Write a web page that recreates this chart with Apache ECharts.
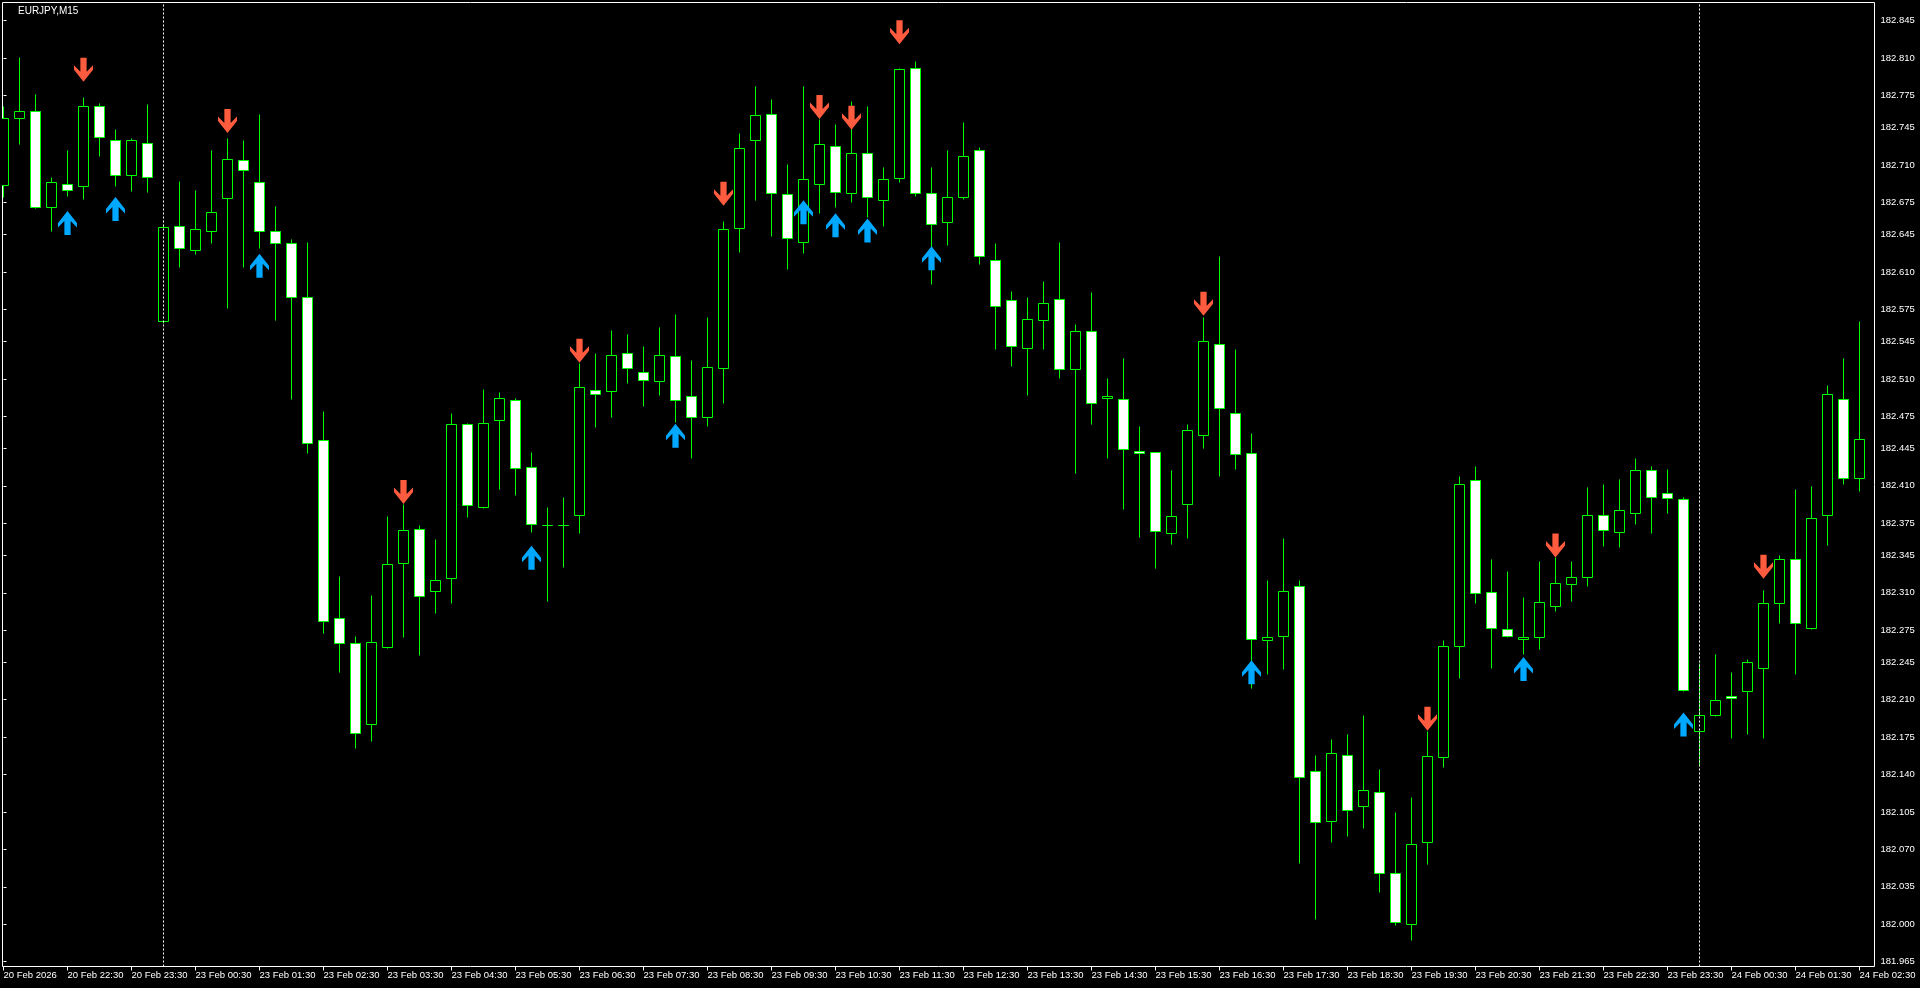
<!DOCTYPE html>
<html>
<head>
<meta charset="utf-8">
<title>EURJPY,M15</title>
<script src="https://cdn.jsdelivr.net/npm/echarts@6.0.0/dist/echarts.min.js"></script>
<style>
  html, body { margin: 0; padding: 0; background: #000; }
  #chart { width: 1920px; height: 988px; }
</style>
</head>
<body>
<div id="chart"></div>
<script>
// ---- Data (EURJPY, M15) ----
const opens = [
  182.691,182.754,182.761,182.671,182.692,182.690,182.765,182.733,182.701,182.731,
  182.564,182.653,182.631,182.648,182.679,182.715,182.694,182.648,182.637,182.587,
  182.453,182.286,182.263,182.187,182.259,182.338,182.370,182.312,182.324,182.468,
  182.390,182.472,182.490,182.428,182.373,182.373,182.383,182.500,182.499,182.534,
  182.516,182.508,182.531,182.494,182.474,182.520,182.651,182.733,182.758,182.683,
  182.638,182.692,182.728,182.684,182.721,182.677,182.698,182.801,182.684,182.657,
  182.680,182.724,182.621,182.584,182.539,182.565,182.585,182.519,182.555,182.492,
  182.491,182.443,182.442,182.366,182.393,182.458,182.543,182.478,182.441,182.266,
  182.270,182.316,182.143,182.097,182.158,182.111,182.124,182.048,182.000,182.077,
  182.156,182.260,182.415,182.311,182.276,182.267,182.269,182.298,182.318,182.325,
  182.383,182.367,182.385,182.425,182.403,182.398,182.181,182.196,182.213,182.218,
  182.240,182.300,182.342,182.277,182.383,182.491,182.417
];
const closes = [
  182.754,182.761,182.671,182.694,182.687,182.765,182.736,182.701,182.733,182.699,
  182.652,182.632,182.650,182.666,182.716,182.705,182.648,182.637,182.587,182.450,
  182.284,182.263,182.179,182.264,182.337,182.369,182.307,182.322,182.468,182.392,
  182.469,182.492,182.427,182.374,182.373,182.373,182.502,182.496,182.532,182.520,
  182.509,182.532,182.490,182.474,182.521,182.650,182.726,182.757,182.684,182.642,
  182.697,182.730,182.685,182.721,182.680,182.697,182.800,182.684,182.655,182.680,
  182.718,182.625,182.578,182.541,182.566,182.581,182.519,182.555,182.487,182.494,
  182.444,182.441,182.368,182.382,182.462,182.545,182.483,182.440,182.267,182.269,
  182.312,182.138,182.096,182.160,182.107,182.126,182.048,182.002,182.075,182.157,
  182.260,182.412,182.310,182.277,182.270,182.269,182.301,182.319,182.325,182.383,
  182.369,182.387,182.425,182.400,182.399,182.219,182.196,182.210,182.212,182.245,
  182.300,182.342,182.282,182.380,182.496,182.417,182.454
];
const lows = [
  182.680,182.730,182.670,182.648,182.681,182.678,182.718,182.690,182.686,182.685,
  182.562,182.615,182.627,182.637,182.576,182.615,182.632,182.565,182.491,182.441,
  182.272,182.236,182.165,182.171,182.258,182.269,182.252,182.291,182.300,182.381,
  182.389,182.407,182.401,182.367,182.302,182.334,182.366,182.465,182.474,182.506,
  182.485,182.495,182.470,182.436,182.466,182.487,182.629,182.677,182.644,182.613,
  182.628,182.665,182.671,182.675,182.661,182.653,182.694,182.681,182.599,182.635,
  182.678,182.617,182.538,182.522,182.495,182.538,182.511,182.422,182.468,182.436,
  182.388,182.362,182.333,182.356,182.361,182.445,182.419,182.426,182.221,182.234,
  182.239,182.057,182.005,182.077,182.083,182.090,182.030,181.999,181.985,182.056,
  182.147,182.230,182.300,182.240,182.269,182.253,182.257,182.293,182.302,182.316,
  182.354,182.353,182.374,182.366,182.385,182.218,182.148,182.195,182.174,182.178,
  182.174,182.282,182.234,182.276,182.355,182.412,182.405
];
const highs = [
  182.765,182.811,182.776,182.699,182.724,182.774,182.768,182.744,182.735,182.767,
  182.655,182.695,182.687,182.724,182.735,182.733,182.758,182.672,182.641,182.638,
  182.480,182.326,182.270,182.308,182.382,182.393,182.373,182.360,182.478,182.469,
  182.501,182.498,182.492,182.442,182.390,182.400,182.525,182.534,182.556,182.552,
  182.541,182.559,182.571,182.528,182.568,182.658,182.740,182.784,182.772,182.711,
  182.784,182.753,182.748,182.770,182.765,182.708,182.801,182.807,182.708,182.724,
  182.750,182.727,182.637,182.592,182.587,182.602,182.638,182.561,182.591,182.511,
  182.530,182.466,182.442,182.425,182.468,182.568,182.625,182.538,182.459,182.322,
  182.361,182.322,182.158,182.173,182.178,182.196,182.145,182.105,182.119,182.181,
  182.266,182.419,182.429,182.342,182.330,182.306,182.340,182.343,182.340,182.409,
  182.412,182.416,182.436,182.429,182.426,182.400,182.244,182.253,182.236,182.248,
  182.313,182.345,182.407,182.410,182.504,182.530,182.564
];

// signal arrows: candle index and arrow-tip price
const sellIdx   = [5, 14, 25, 36, 45, 51, 53, 56, 75, 89, 97, 110];
const sellPrice = [182.788,182.740,182.393,182.525,182.672,182.753,182.743,182.823,182.569,182.181,182.343,182.323];
const buyIdx    = [4, 7, 16, 33, 42, 50, 52, 54, 58, 78, 95, 105];
const buyPrice  = [182.667,182.680,182.627,182.354,182.468,182.677,182.665,182.660,182.634,182.247,182.250,182.198];

// period separators (day starts) at candle index
const separatorIdx = [10, 106];

// axis tick labels
const xTickIdx = [0,4,8,12,16,20,24,28,32,36,40,44,48,52,56,60,64,68,72,76,80,84,88,92,96,100,104,108,112,116];
const xTickLabels = [
  '20 Feb 2026','20 Feb 22:30','20 Feb 23:30','23 Feb 00:30','23 Feb 01:30','23 Feb 02:30',
  '23 Feb 03:30','23 Feb 04:30','23 Feb 05:30','23 Feb 06:30','23 Feb 07:30','23 Feb 08:30',
  '23 Feb 09:30','23 Feb 10:30','23 Feb 11:30','23 Feb 12:30','23 Feb 13:30','23 Feb 14:30',
  '23 Feb 15:30','23 Feb 16:30','23 Feb 17:30','23 Feb 18:30','23 Feb 19:30','23 Feb 20:30',
  '23 Feb 21:30','23 Feb 22:30','23 Feb 23:30','24 Feb 00:30','24 Feb 01:30','24 Feb 02:30'
];
const yTickLabels = [182.845,182.810,182.775,182.745,182.710,182.675,182.645,182.610,182.575,
  182.545,182.510,182.475,182.445,182.410,182.375,182.345,182.310,182.275,182.245,182.210,
  182.175,182.140,182.105,182.070,182.035,182.000,181.965];

// ---- Build ----
const candleData = opens.map((o, i) => [i, o, closes[i], lows[i], highs[i]]);
const sellData = sellIdx.map((i, k) => [i, sellPrice[k]]);
const buyData = buyIdx.map((i, k) => [i, buyPrice[k]]);

const GREEN = '#00ff00';
const FONT = '"Liberation Sans", Arial, sans-serif';

function renderCandle(params, api) {
  const x = api.value(0);
  const o = api.value(1), c = api.value(2), l = api.value(3), h = api.value(4);
  const pO = api.coord([x, o]);
  const pC = api.coord([x, c]);
  const pL = api.coord([x, l]);
  const pH = api.coord([x, h]);
  const cx = Math.round(pO[0] - 0.5) + 0.5;
  const yH = Math.round(pH[1]) + 0.5;
  const yL = Math.round(pL[1]) + 0.5;
  const yT = Math.round(Math.min(pO[1], pC[1])) + 0.5;
  const yB = Math.round(Math.max(pO[1], pC[1])) + 0.5;
  const bull = c >= o;
  return {
    type: 'group',
    children: [
      { type: 'line', shape: { x1: cx, y1: yH, x2: cx, y2: yL },
        style: { stroke: GREEN, lineWidth: 1 } },
      { type: 'rect', shape: { x: cx - 5, y: yT, width: 10, height: yB - yT },
        style: { fill: bull ? '#000000' : '#ffffff', stroke: GREEN, lineWidth: 1 } }
    ]
  };
}

const downPath = 'path://M6.7 0 L13.3 0 L13.3 14 L20 7.5 L20 12 L10 24 L0 12 L0 7.5 L6.7 14 Z';
const upPath   = 'path://M6.7 24 L13.3 24 L13.3 10 L20 16.5 L20 12 L10 0 L0 12 L0 16.5 L6.7 10 Z';

const chart = echarts.init(document.getElementById('chart'), null, { renderer: 'canvas' });
chart.setOption({
  animation: false,
  backgroundColor: '#000000',
  title: {
    text: 'EURJPY,M15', left: 18, top: 5, padding: 0,
    textStyle: { color: '#ffffff', fontSize: 10, fontWeight: 'normal', fontFamily: FONT, lineHeight: 12 }
  },
  grid: {
    left: 2.5, top: 2.5, width: 1872, height: 964,
    show: true, borderColor: '#ffffff', borderWidth: 1, backgroundColor: 'transparent'
  },
  xAxis: {
    type: 'value', min: -0.0625, max: 116.9375,
    axisLine: { show: false },
    splitLine: { show: false },
    axisTick: { show: true, customValues: xTickIdx, length: 4, lineStyle: { color: '#ffffff' } },
    axisLabel: {
      customValues: xTickIdx, color: '#ffffff', fontSize: 9.5, fontFamily: FONT,
      align: 'left', margin: 3, lineHeight: 12,
      formatter: function (v) {
        const k = xTickIdx.indexOf(Math.round(v));
        return k >= 0 ? xTickLabels[k] : '';
      }
    }
  },
  yAxis: {
    type: 'value', position: 'right', min: 181.9605, max: 182.8620, scale: true,
    axisLine: { show: false },
    splitLine: { show: false },
    axisTick: { show: true, customValues: yTickLabels, length: 3, lineStyle: { color: '#ffffff' } },
    axisLabel: {
      customValues: yTickLabels, color: '#ffffff', fontSize: 9.5, fontFamily: FONT, margin: 6,
      formatter: function (v) { return v.toFixed(3); }
    }
  },
  series: [
    {
      type: 'custom', name: 'EURJPY', renderItem: renderCandle, data: candleData,
      encode: { x: 0, y: [1, 2, 3, 4] }, clip: true, silent: true,
      markLine: {
        silent: true, symbol: 'none', animation: false,
        label: { show: false },
        lineStyle: { color: '#ffffff', type: [2, 2], width: 1 },
        data: separatorIdx.map(i => ({ xAxis: i }))
      }
    },
    {
      type: 'scatter', name: 'Sell', data: sellData, symbol: downPath,
      symbolSize: [19, 24], symbolOffset: [0, -12], silent: true, z: 5,
      itemStyle: { color: '#ff5b3f', opacity: 1 }
    },
    {
      type: 'scatter', name: 'Buy', data: buyData, symbol: upPath,
      symbolSize: [19, 24], symbolOffset: [0, 12], silent: true, z: 5,
      itemStyle: { color: '#00a8ff', opacity: 1 }
    }
  ]
});
</script>
</body>
</html>
